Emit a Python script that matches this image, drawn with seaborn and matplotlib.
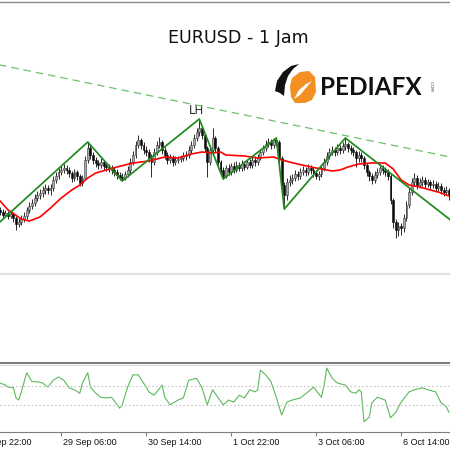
import numpy as np
import pandas as pd
import matplotlib
matplotlib.use("Agg")
import matplotlib.pyplot as plt
import seaborn as sns
from matplotlib.patches import Polygon

# ---------------- data (prices as 1 + pips/10000) ----------------
first_open_pips = 1590
close_pips = [1588,1585,1587,1584,1586,1582,1576,1578,1581,1584,
1590,1594,1597,1602,1605,1607,1610,1612,1610,1612,
1620,1624,1628,1630,1632,1630,1627,1622,1628,1624,
1617,1622,1640,1652,1645,1640,1637,1635,1638,1634,
1633,1632,1630,1628,1625,1623,1622,1626,1630,1638,
1645,1655,1660,1655,1650,1648,1642,1638,1648,1655,
1658,1650,1645,1640,1642,1638,1640,1641,1642,1644,
1645,1650,1655,1662,1668,1672,1665,1652,1638,1650,
1662,1652,1638,1630,1624,1632,1628,1634,1630,1635,
1632,1636,1633,1638,1635,1640,1638,1642,1648,1652,
1656,1658,1655,1660,1658,1642,1615,1605,1618,1620,
1622,1626,1624,1628,1630,1628,1632,1630,1627,1624,
1626,1632,1638,1644,1648,1650,1648,1652,1650,1654,
1656,1652,1650,1648,1642,1645,1642,1635,1628,1624,
1620,1625,1628,1632,1630,1628,1624,1600,1578,1570,
1574,1572,1582,1595,1608,1618,1622,1615,1618,1620,
1616,1618,1615,1616,1612,1614,1610,1608,1610,1605]
high_pips = [1593,1591,1590,1589,1590,1588,1584,1582,1585,1588,
1593,1598,1601,1606,1609,1611,1614,1616,1615,1616,
1624,1628,1632,1634,1636,1635,1633,1629,1631,1630,
1626,1625,1644,1658,1655,1648,1643,1640,1642,1640,
1637,1636,1635,1633,1631,1628,1627,1629,1634,1642,
1649,1659,1665,1662,1658,1654,1651,1646,1652,1659,
1663,1660,1653,1648,1646,1645,1644,1644,1645,1648,
1649,1654,1659,1666,1672,1681,1675,1667,1654,1654,
1672,1664,1654,1640,1633,1635,1636,1637,1638,1639,
1638,1640,1639,1641,1641,1643,1644,1646,1651,1655,
1660,1662,1661,1662,1662,1660,1644,1618,1622,1625,
1626,1630,1629,1632,1634,1633,1636,1635,1633,1630,
1629,1636,1642,1648,1652,1654,1653,1656,1655,1658,
1662,1658,1655,1653,1650,1649,1648,1644,1637,1630,
1627,1629,1632,1636,1635,1633,1631,1626,1602,1581,
1578,1577,1586,1599,1612,1622,1627,1625,1622,1624,
1623,1621,1620,1620,1619,1618,1617,1613,1614,1612]
low_pips = [1585,1582,1583,1581,1582,1578,1570,1573,1575,1578,
1581,1587,1591,1594,1599,1601,1603,1606,1606,1605,
1609,1617,1621,1625,1627,1626,1623,1618,1619,1620,
1614,1614,1620,1637,1641,1636,1633,1631,1632,1630,
1629,1628,1626,1624,1621,1620,1619,1620,1623,1627,
1635,1642,1652,1651,1646,1644,1638,1623,1635,1645,
1652,1646,1641,1636,1637,1634,1635,1637,1638,1639,
1640,1642,1647,1652,1659,1664,1661,1648,1623,1635,
1647,1648,1634,1626,1621,1622,1625,1625,1627,1628,
1629,1629,1630,1631,1632,1632,1634,1635,1640,1645,
1649,1653,1651,1652,1654,1638,1610,1591,1600,1614,
1616,1619,1620,1621,1625,1624,1625,1626,1623,1621,
1620,1623,1629,1635,1641,1645,1644,1645,1646,1647,
1650,1648,1646,1644,1633,1638,1638,1631,1624,1619,
1616,1617,1622,1625,1626,1624,1620,1596,1572,1562,
1564,1565,1568,1579,1592,1605,1614,1611,1612,1614,
1612,1613,1611,1612,1608,1609,1606,1604,1605,1600]

# moving average (red)
ma_bar = [0,3,8,11,15,19,23,27,30,33,36,40,44,50,56,62,67,72,76,80,
          83,85,92,97,103,106,112,119,125,128,131,135,140,145,148,151,154,158,162,165,169]
ma_pips = [1599,1590,1581,1579,1583,1592,1602,1610,1615,1622,1627,1630,1633,1637,1639,1643,1642,1646,1648,1647,
           1648,1645,1644,1642,1643,1640,1636,1632,1629,1630,1633,1636,1637,1637,1631,1620,1615,1613,1610,1608,1604]

# zigzag (green)
zz_bar = [-3, 33, 46, 75, 84, 104, 107, 130, 172]
zz_pips = [1571, 1658, 1619, 1681, 1621, 1662, 1591, 1662, 1575]
lh_index = 3

# dashed trend line
tr_bar = [-5, 175]
tr_pips = [1737.7, 1640.0]

# oscillator (lower panel)
osc_bar = [0,2,3,5,6,7,8,10,12,14,16,18,20,22,24,26,28,30,31,33,
           34,36,38,40,42,45,46,48,50,52,55,56,58,59,61,62,64,67,69,71,
           74,76,78,80,82,84,85,86,88,90,92,94,96,97,98,100,102,104,106,108,
           110,113,116,118,121,122,123,125,127,130,132,134,135,136,137,139,140,142,145,147,
           149,151,154,156,159,161,164,166,168,169]
osc_val = [72,69,66,65,50,47,59,87,74,74,72,66,76,81,76,65,62,57,72,87,
           66,57,51,50,51,35,40,66,84,84,66,59,54,59,69,51,40,47,50,76,
           79,65,40,62,51,40,43,47,44,54,50,62,59,62,91,84,74,51,25,44,
           47,50,59,66,51,69,94,79,72,69,59,57,62,59,15,22,43,51,47,21,
           29,44,59,62,65,62,59,43,37,29]
osc_levels = [68, 40]

tick_bars = [-9, 23, 55, 87, 119, 151]
tick_labels = ["27 Sep 22:00", "29 Sep 06:00", "30 Sep 14:00",
               "1 Oct 22:00", "3 Oct 06:00", "6 Oct 14:00"]
title = "EURUSD - 1 Jam"

# ---------------- build ----------------
to_price = lambda p: 1 + np.asarray(p, dtype=float) / 10000.0
close = to_price(close_pips)
high = to_price(high_pips)
low = to_price(low_pips)
opn = np.concatenate([[to_price(first_open_pips)], close[:-1]])
bars = np.arange(len(close))
df = pd.DataFrame({"bar": bars, "open": opn, "close": close, "high": high, "low": low})

sns.set_theme(style="white")
plt.rcParams["font.family"] = ["DejaVu Sans"]

fig = plt.figure(figsize=(4.5, 4.5), dpi=100)
fig.patch.set_facecolor("white")

H = 450.0
ax = fig.add_axes([0, 1 - 273 / H, 1, (273 - 2) / H])
axo = fig.add_axes([0, 1 - 432 / H, 1, (432 - 365) / H])

XL = (-0.04, 169.4)

# candles
up = df["close"] >= df["open"]
ax.vlines(df["bar"], df["low"], df["high"], color="#1a1a1a", lw=0.65, zorder=2)
body_lo = np.minimum(df["open"], df["close"])
body_h = np.maximum(np.abs(df["close"] - df["open"]), 0.00003)
ax.bar(df["bar"][up], body_h[up], bottom=body_lo[up], width=0.7,
       color="#a8a8a8", edgecolor="#3a3a3a", linewidth=0.4, zorder=3)
ax.bar(df["bar"][~up], body_h[~up], bottom=body_lo[~up], width=0.7,
       color="#0a0a0a", edgecolor="#0a0a0a", linewidth=0.4, zorder=3)

sns.lineplot(x=ma_bar, y=to_price(ma_pips), ax=ax, color="#ff0000", lw=1.2, zorder=4)
sns.lineplot(x=zz_bar, y=to_price(zz_pips), ax=ax, color="#1f8a1f", lw=1.25, zorder=5, sort=False)
sns.lineplot(x=tr_bar, y=to_price(tr_pips), ax=ax, color="#6cc06c", lw=0.9,
             dashes=False, zorder=5, linestyle=(0, (6, 4)))

ax.annotate("LH", xy=(zz_bar[lh_index], to_price(zz_pips[lh_index])), xytext=(-2, 1.5),
            textcoords="offset points", ha="center", va="bottom", fontsize=8.5, color="#2a2a2a")

ax.set_xticks([]); ax.set_yticks([])
ax.set_xlim(*XL)
ax.set_ylim(1.1527, 1.1798)
ax.set_xlabel(""); ax.set_ylabel("")
for s in ax.spines.values():
    s.set_visible(False)
ax.set_facecolor("white")

# oscillator
sns.lineplot(x=osc_bar, y=osc_val, ax=axo, color="#5db85d", lw=0.8)
for lv in osc_levels:
    axo.axhline(lv, color="#c4c4c4", lw=0.8, linestyle=(0, (1.5, 2)))
axo.set_yticks([])
axo.set_xlabel(""); axo.set_ylabel("")
axo.set_xticks(tick_bars)
axo.set_xticklabels([""] * len(tick_bars))
axo.set_xlim(*XL)
axo.set_ylim(0, 98.5)
axo.tick_params(axis="x", direction="out", length=3, width=0.8, color="#7f7f7f", bottom=True)
for k in ["left", "right", "top"]:
    axo.spines[k].set_visible(False)
axo.spines["bottom"].set_color("#7f7f7f")
axo.spines["bottom"].set_linewidth(0.8)
for b, lbl in zip(tick_bars, tick_labels):
    axo.annotate(lbl, xy=(b, 0), xycoords=("data", "axes fraction"), xytext=(1.2, -4.5),
                 textcoords="offset points", ha="left", va="top", fontsize=6.5,
                 family=["Liberation Sans", "DejaVu Sans"], color="#111111",
                 annotation_clip=False)

# overlay for frame lines, title and logo (pixel coordinates)
ov = fig.add_axes([0, 0, 1, 1], zorder=10)
ov.set_xlim(0, 450); ov.set_ylim(450, 0)
ov.axis("off")
ov.patch.set_alpha(0)
ov.plot([0, 450], [1.5, 1.5], color="#8a8a8a", lw=1.0)
ov.plot([0, 450], [273.6, 273.6], color="#e2e2e2", lw=1.6)
ov.plot([0, 450], [363.3, 363.3], color="#6e6e6e", lw=1.3)
ov.plot([0, 450], [365.4, 365.4], color="#d6d6d6", lw=0.8)

ov.text(238, 38, title, ha="center", va="center", fontsize=12.6, color="#111111",
        family=["DejaVu Sans"])

# logo
ov.add_patch(Polygon([(292, 78), (300, 72), (309, 71), (315, 77), (316, 92), (312, 100),
                      (305, 103), (295, 103), (291, 97), (290, 86)],
                     closed=True, facecolor="#f39021", edgecolor="none"))
ov.add_patch(Polygon([(294, 99), (299, 90), (306, 84), (312, 81), (306, 88), (300, 95)],
                     closed=True, facecolor="white", edgecolor="none"))
ov.add_patch(Polygon([(275, 91), (277, 81), (283, 72), (291, 66), (299, 64), (293, 69),
                      (288, 76), (285, 85), (284, 96), (280, 93)],
                     closed=True, facecolor="#111111", edgecolor="none"))
ov.text(320, 87.5, "PEDIAFX", ha="left", va="center", fontsize=17.5, fontweight="bold",
        color="#111111", family=["Lato", "DejaVu Sans"])
ov.text(431, 86, ".COM", ha="center", va="center", fontsize=3, rotation=-90,
        color="#333333", family=["DejaVu Sans"])

fig.savefig("out.png", dpi=100, facecolor="white")
